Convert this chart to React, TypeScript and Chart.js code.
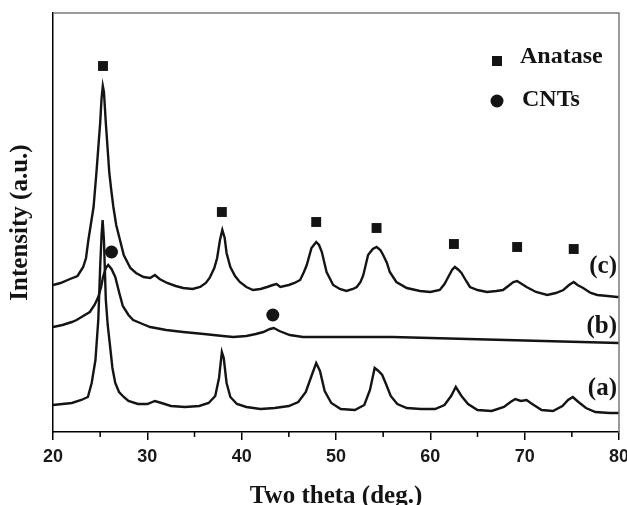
import React, { useEffect, useRef } from 'react';
import { Chart, registerables } from 'chart.js';

Chart.register(...registerables);

// Sample (a)
const thetaA = [20.0, 21.0, 22.0, 23.0, 23.7, 24.1, 24.5, 24.8, 25.0, 25.15, 25.26, 25.4, 25.6, 25.8, 26.0, 26.3, 26.6, 27.0, 27.5, 28.0, 29.0, 30.0, 30.8, 31.5, 32.5, 34.0, 35.5, 36.5, 37.2, 37.6, 37.9, 38.1, 38.4, 38.8, 39.5, 40.5, 42.0, 43.5, 45.0, 46.0, 46.8, 47.4, 47.9, 48.3, 48.8, 49.5, 50.5, 52.0, 53.0, 53.6, 54.1, 54.5, 54.9, 55.3, 55.8, 56.5, 57.5, 59.0, 60.5, 61.5, 62.2, 62.7, 63.3, 64.0, 65.0, 66.5, 67.8, 68.5, 69.0, 69.6, 70.2, 70.8, 71.8, 73.0, 74.0, 74.6, 75.1, 75.7, 76.5, 77.5, 79.0, 80.0];
const intensityA = [27, 28, 29, 32, 35, 49, 72, 112, 165, 197, 212, 192, 132, 107, 90, 64, 49, 40, 35, 31, 28, 28, 31, 29, 26, 25, 26, 29, 36, 54, 80, 74, 49, 35, 28, 25, 23, 24, 26, 30, 40, 56, 69, 61, 41, 29, 23, 22, 27, 42, 64, 61, 57, 48, 36, 28, 24, 23, 23, 27, 36, 45, 36, 28, 22, 21, 25, 30, 33, 31, 32, 28, 22, 21, 26, 32, 35, 30, 24, 20, 19, 19];

// Sample (b)
const thetaB = [20.0, 21.0, 22.0, 22.5, 23.2, 23.9, 24.4, 24.8, 25.1, 25.3, 25.6, 25.85, 26.2, 26.6, 27.0, 27.4, 28.0, 28.5, 29.5, 30.3, 32.0, 33.8, 36.0, 38.0, 39.1, 40.5, 41.5, 42.3, 43.0, 43.4, 44.0, 45.1, 46.5, 48.3, 52.0, 56.0, 60.0, 64.0, 68.0, 72.0, 76.0, 80.0];
const intensityB = [105, 107, 110, 112, 116, 120, 127, 135, 145, 155, 164, 167, 163, 155, 140, 126, 117, 112, 108, 105, 102, 100, 98, 96, 95, 96, 98, 100, 103, 104, 101, 97, 95, 95, 95, 95, 94, 93, 92, 91, 90, 89];

// Sample (c)
const thetaC = [20.0, 20.8, 21.8, 22.6, 23.2, 23.5, 23.75, 24.0, 24.3, 24.6, 24.8, 25.0, 25.15, 25.28, 25.4, 25.6, 25.8, 25.97, 26.2, 26.4, 26.7, 27.1, 27.5, 28.2, 28.8, 29.6, 30.3, 30.8, 31.3, 32.1, 33.0, 33.8, 34.8, 35.6, 36.2, 36.6, 37.1, 37.4, 37.7, 37.95, 38.2, 38.4, 38.8, 39.3, 39.8, 40.5, 41.2, 42.0, 42.7, 43.3, 43.7, 44.1, 45.0, 45.6, 46.2, 46.6, 46.9, 47.4, 47.9, 48.2, 48.5, 49.0, 49.7, 50.4, 51.1, 51.8, 52.2, 52.6, 52.9, 53.4, 53.9, 54.3, 54.7, 55.0, 55.4, 55.7, 56.4, 57.5, 58.9, 60.0, 61.0, 61.5, 61.9, 62.3, 62.6, 63.0, 63.3, 63.8, 64.2, 65.0, 66.0, 67.0, 67.7, 68.4, 68.8, 69.2, 69.7, 70.2, 71.2, 72.4, 73.3, 74.1, 74.7, 75.2, 75.6, 76.2, 77.0, 77.7, 78.8, 79.8, 80.0];
const intensityC = [147, 149, 153, 156, 165, 174, 192, 207, 225, 259, 284, 309, 334, 346, 340, 309, 282, 259, 240, 225, 207, 192, 177, 164, 159, 155, 154, 157, 153, 149, 146, 144, 143, 145, 149, 154, 164, 174, 192, 202, 194, 179, 165, 156, 150, 145, 142, 143, 145, 147, 148, 145, 147, 149, 152, 160, 167, 184, 190, 187, 180, 160, 147, 143, 141, 143, 145, 150, 157, 177, 183, 185, 182, 177, 169, 160, 150, 144, 141, 140, 142, 148, 155, 162, 165, 162, 159, 151, 145, 142, 140, 141, 142, 147, 150, 151, 148, 145, 140, 137, 139, 142, 147, 150, 147, 144, 139, 137, 136, 135, 135];

// Phase markers
const anataseTheta = [25.3, 37.9, 47.9, 54.3, 62.5, 69.2, 75.2];
const anataseY = [366, 220, 210, 204, 188, 185, 183];
const cntTheta = [26.2, 43.3];
const cntY = [180, 117];

// Axes / labels
const xMin = 20;
const xMax = 80;
const yMin = 0;
const yMax = 419;
const majorTicks = [20, 30, 40, 50, 60, 70, 80];
const minorTicks = [25, 35, 45, 55, 65, 75];
const curveNames = ['(a)', '(b)', '(c)'];
const curveLabelY = [43, 105, 165];
const legendNames = ['Anatase', 'CNTs'];

const SERIF = '"Liberation Serif", "Times New Roman", Times, serif';
const SANS = '"Liberation Sans", Arial, Helvetica, sans-serif';
const INK = '#141414';

const pts = (xs: number[], ys: number[]) => xs.map((x, i) => ({ x, y: ys[i] }));

const decorPlugin = {
  id: 'decor',
  afterDraw(chart: any) {
    const { ctx, chartArea: a, scales } = chart;
    const x = scales.x;
    const y = scales.y;
    ctx.save();
    // top & right frame (grey)
    ctx.strokeStyle = '#7a7a7a';
    ctx.lineWidth = 1.5;
    ctx.beginPath();
    ctx.moveTo(a.left, a.top);
    ctx.lineTo(a.right, a.top);
    ctx.lineTo(a.right, a.bottom);
    ctx.stroke();
    // minor ticks
    ctx.strokeStyle = '#000';
    ctx.lineWidth = 1.5;
    ctx.beginPath();
    minorTicks.forEach((v) => {
      const px = x.getPixelForValue(v);
      ctx.moveTo(px, a.bottom);
      ctx.lineTo(px, a.bottom + 5);
    });
    ctx.stroke();
    // curve labels
    ctx.fillStyle = INK;
    ctx.font = 'bold 25px ' + SERIF;
    ctx.textAlign = 'right';
    ctx.textBaseline = 'middle';
    curveNames.forEach((n, i) => {
      ctx.fillText(n, a.right - 2, y.getPixelForValue(curveLabelY[i]));
    });
    // legend
    const lx = a.left + 444;
    const ly1 = a.top + 48;
    const ly2 = a.top + 88;
    ctx.fillStyle = INK;
    ctx.fillRect(lx - 5, ly1 - 5, 10, 10);
    ctx.beginPath();
    ctx.arc(lx, ly2, 6.5, 0, Math.PI * 2);
    ctx.fill();
    ctx.font = 'bold 24px ' + SERIF;
    ctx.textAlign = 'left';
    ctx.fillText(legendNames[0], lx + 23, ly1 - 4);
    ctx.fillText(legendNames[1], lx + 25, ly2 - 1);
    ctx.restore();
  },
};

export default function App() {
  const ref = useRef<HTMLCanvasElement>(null);
  useEffect(() => {
    if (!ref.current) return;
    const line = (data: any) => ({
      data,
      showLine: true,
      borderColor: INK,
      borderWidth: 2.4,
      pointRadius: 0,
      tension: 0,
    });
    const chart = new Chart(ref.current, {
      type: 'scatter',
      data: {
        datasets: [
          { label: '(a)', ...line(pts(thetaA, intensityA)) },
          { label: '(b)', ...line(pts(thetaB, intensityB)) },
          { label: '(c)', ...line(pts(thetaC, intensityC)) },
          {
            label: legendNames[0],
            data: pts(anataseTheta, anataseY),
            showLine: false,
            pointStyle: 'rect',
            pointRadius: 7,
            backgroundColor: INK,
            borderWidth: 0,
          },
          {
            label: legendNames[1],
            data: pts(cntTheta, cntY),
            showLine: false,
            pointStyle: 'circle',
            pointRadius: 6.5,
            backgroundColor: INK,
            borderWidth: 0,
          },
        ],
      },
      options: {
        animation: false,
        responsive: false,
        events: [],
        layout: { padding: { top: 13, right: 8, left: 0, bottom: 0 } },
        plugins: { legend: { display: false }, tooltip: { enabled: false } },
        scales: {
          x: {
            type: 'linear',
            min: xMin,
            max: xMax,
            afterBuildTicks: (s: any) => {
              s.ticks = majorTicks.map((v) => ({ value: v }));
            },
            afterFit: (s: any) => {
              s.height = 73;
              s.paddingLeft = 0;
              s.paddingRight = 0;
            },
            ticks: {
              color: '#1a1a1a',
              font: { family: SANS, size: 18, weight: 'bold' },
              padding: 6,
              maxRotation: 0,
            },
            grid: { drawOnChartArea: false, drawTicks: true, tickLength: 8, color: '#000', lineWidth: 1.5 },
            border: { display: true, color: '#000', width: 1.5 },
            title: {
              display: true,
              text: 'Two theta (deg.)',
              color: INK,
              font: { family: SERIF, size: 25, weight: 'bold', lineHeight: 0.7 },
              padding: { top: 0, bottom: 0 },
            },
          },
          y: {
            type: 'linear',
            min: yMin,
            max: yMax,
            afterFit: (s: any) => {
              s.width = 53;
            },
            ticks: { display: false },
            grid: { display: true, drawOnChartArea: false, drawTicks: false },
            border: { display: true, color: '#000', width: 1.5 },
            title: {
              display: true,
              text: 'Intensity (a.u.)',
              color: INK,
              font: { family: SERIF, size: 25, weight: 'bold', lineHeight: 1 },
              padding: { top: 8, bottom: 0 },
            },
          },
        },
      },
      plugins: [decorPlugin],
    } as any);
    return () => chart.destroy();
  }, []);
  return (
    <div style={{ position: 'absolute', left: 0, top: 0, width: 627, height: 505, background: '#fff' }}>
      <canvas ref={ref} width={627} height={505} />
    </div>
  );
}
